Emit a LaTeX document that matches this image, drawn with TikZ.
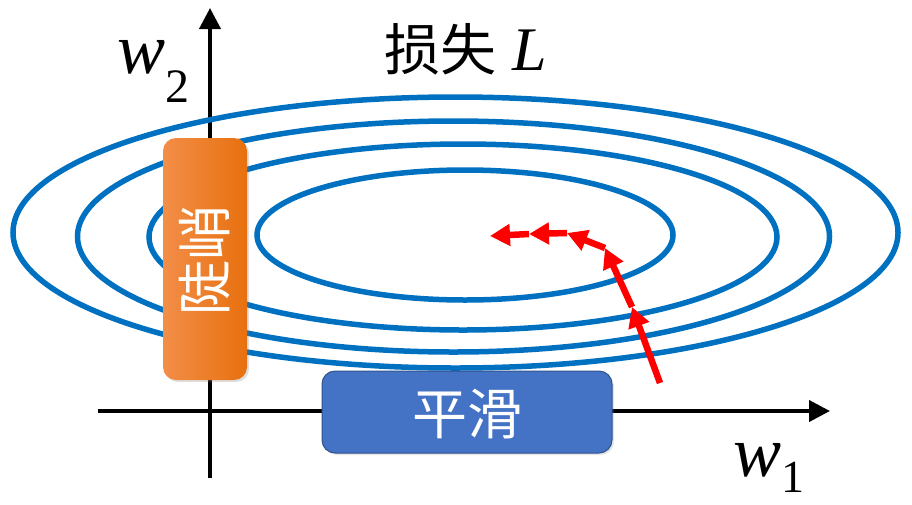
\documentclass[tikz,border=0pt]{standalone}
\usepackage{fontspec}
\setmainfont{Liberation Serif}
\newfontfamily\cjk{Noto Sans CJK SC}
\usetikzlibrary{arrows.meta,shadows}
\definecolor{ellblue}{RGB}{0,112,192}
\definecolor{boxblue}{RGB}{68,114,196}
\definecolor{boxblueedge}{RGB}{47,82,143}
\definecolor{orangeL}{RGB}{242,142,72}
\definecolor{orangeR}{RGB}{232,112,14}
\definecolor{pathred}{RGB}{255,0,0}
\begin{document}
\begin{tikzpicture}[x=1pt,y=-1pt,
  axisline/.style={line width=4pt,black,-{Triangle[length=21pt,width=21pt]}},
  contour/.style={line width=5.5pt,ellblue},
  steparrow/.style={line width=6.5pt,pathred,-{Triangle[length=20pt,width=21pt]}},
  cjklabel/.style={font=\cjk\fontsize{55}{60}\selectfont,text=white,inner sep=0pt},
  axislabel/.style={inner sep=0pt,anchor=base west}]
\useasboundingbox (0,0) rectangle (912,504);
% axes
\coordinate (ybot) at (210,478);
\coordinate (ytop) at (210,8);
\coordinate (xleft) at (98,411);
\coordinate (xright) at (830,411);
\draw[axisline] (ybot) -- (ytop);
\draw[axisline] (xleft) -- (xright);
% contours
\draw[contour] (465,235) ellipse [x radius=208pt, y radius=65pt];
\draw[contour] (463,237) ellipse [x radius=314pt, y radius=93pt];
\draw[contour] (453.5,236.5) ellipse [x radius=376pt, y radius=115.5pt];
\draw[contour] (455.5,232.5) ellipse [x radius=442.5pt, y radius=135.5pt];
% boxes
\path[left color=orangeL,right color=orangeR,rounded corners=13pt,
  drop shadow={opacity=0.25,shadow xshift=2pt,shadow yshift=-2pt}]
  (163,138) rectangle (247,380);
\node[cjklabel,rotate=90] (steep) at (205,260) {陡峭};
\filldraw[fill=boxblue,draw=boxblueedge,line width=1pt,rounded corners=13pt,
  drop shadow={opacity=0.2,shadow xshift=2pt,shadow yshift=-2pt}]
  (322,371) rectangle (612,453);
\node[cjklabel] (smooth) at (467,414) {平滑};
% labels
\node[axislabel] (w2) at (117,73) {{\fontsize{72}{72}\selectfont\textit{w}}{\fontsize{48}{48}\selectfont\raisebox{-29pt}{2}}};
\node[axislabel] (w1) at (733,476) {{\fontsize{72}{72}\selectfont\textit{w}}{\fontsize{46}{46}\selectfont\raisebox{-16pt}{1}}};
\node[inner sep=0pt,anchor=base] (title) at (466,70) {{\cjk\fontsize{56}{60}\selectfont 损失}\hspace{16pt}{\fontsize{62}{62}\selectfont\textit{L}}};
% descent path
\coordinate (p0) at (660,383);
\coordinate (p1) at (632,307);
\coordinate (p2) at (605,248);
\coordinate (p3) at (567,233);
\coordinate (p4) at (529,234);
\coordinate (p5) at (490,236);
\draw[steparrow] (p0) -- (p1);
\draw[steparrow] (p1) -- (p2);
\draw[steparrow] (p2) -- (p3);
\draw[steparrow] (p3) -- (p4);
\draw[steparrow] (p4) -- (p5);
\end{tikzpicture}
\end{document}
